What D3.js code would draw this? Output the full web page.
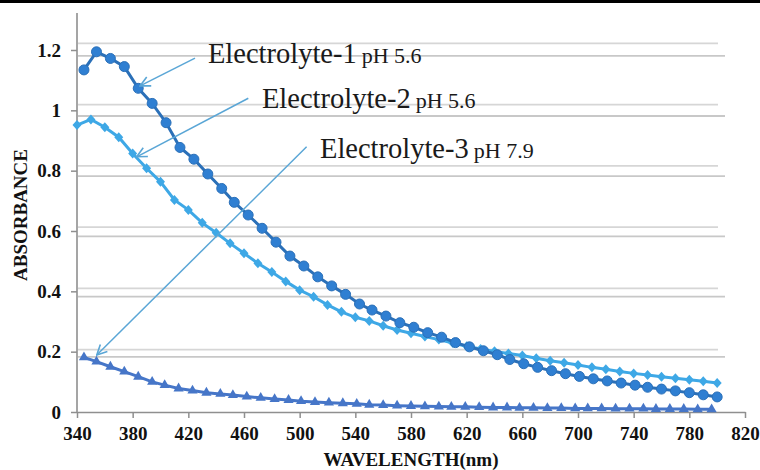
<!DOCTYPE html>
<html><head><meta charset="utf-8">
<script src="https://cdn.jsdelivr.net/npm/d3@7"></script>
<style>
html,body{margin:0;padding:0;background:#fff;}
svg{display:block;}
svg text{font-family:"Liberation Serif","DejaVu Serif",serif;}
</style></head>
<body>
<script>
// ---- data ----
const xTicks = [340,380,420,460,500,540,580,620,660,700,740,780,820];
const yTicks = [0,0.2,0.4,0.6,0.8,1.0,1.2];
const yTickLabels = ["0","0.2","0.4","0.6","0.8","1","1.2"];

const seriesNames = ["Electrolyte-1","Electrolyte-2","Electrolyte-3"];
const seriesPH = ["pH 5.6","pH 5.6","pH 7.9"];

const wavelength1 = [345,354,364,374,384,394,404,414,424,434,444,453,463,473,483,493,503,513,523,533,543,552,562,572,582,592,602,612,622,632,642,651,661,671,681,691,701,711,721,731,741,750,760,770,780,790,800];
const absorb1 = [1.134,1.194,1.172,1.145,1.073,1.023,0.959,0.877,0.838,0.789,0.741,0.695,0.653,0.609,0.563,0.517,0.484,0.448,0.418,0.390,0.358,0.338,0.318,0.296,0.281,0.263,0.248,0.230,0.216,0.203,0.190,0.174,0.160,0.148,0.137,0.127,0.118,0.110,0.103,0.096,0.089,0.082,0.076,0.070,0.064,0.057,0.050];

const wavelength2 = [340,350,360,370,380,390,400,410,420,430,440,450,460,470,480,490,500,510,520,530,540,550,560,570,580,590,600,610,620,630,640,650,660,670,680,690,700,710,720,730,740,750,760,770,780,790,800];
const absorb2 = [0.951,0.970,0.944,0.911,0.857,0.808,0.763,0.703,0.670,0.627,0.594,0.559,0.526,0.493,0.464,0.433,0.404,0.382,0.355,0.332,0.314,0.302,0.286,0.272,0.261,0.250,0.240,0.229,0.218,0.209,0.201,0.194,0.187,0.178,0.170,0.163,0.156,0.148,0.142,0.134,0.128,0.123,0.117,0.112,0.107,0.102,0.096];

const wavelength3 = [345,354,364,374,384,394,403,413,423,433,443,452,462,472,482,492,501,511,521,531,541,550,560,570,580,590,600,609,619,629,639,649,658,668,678,688,698,707,717,727,737,747,756,766,776,786,796];
const absorb3 = [0.181,0.167,0.150,0.134,0.117,0.100,0.089,0.078,0.071,0.064,0.060,0.056,0.051,0.047,0.043,0.040,0.036,0.033,0.031,0.029,0.027,0.024,0.023,0.021,0.020,0.019,0.018,0.017,0.017,0.016,0.015,0.015,0.014,0.014,0.013,0.013,0.012,0.012,0.012,0.011,0.011,0.011,0.010,0.010,0.010,0.009,0.009];

// ---- drawing ----
const W = 760, H = 470;
const svg = d3.select("body").append("svg").attr("width", W).attr("height", H);
svg.append("rect").attr("width", W).attr("height", H).attr("fill", "#fff");
svg.append("rect").attr("width", W).attr("height", 3).attr("fill", "#000");

const x = d3.scaleLinear().domain([340, 820]).range([77, 745]);
const y = d3.scaleLinear().domain([0, 1.2]).range([412, 50]);
const gridUpper = y.copy().range([411, 43.3]);
const gridLower = y.copy().range([417, 55.8]);

// double gridlines
const grid = svg.append("g");
grid.selectAll("line.gu").data(yTicks.filter(d => d > 0)).join("line")
  .attr("x1", 78).attr("x2", 718)
  .attr("y1", d => gridUpper(d)).attr("y2", d => gridUpper(d))
  .attr("stroke", "#d6d6d6").attr("stroke-width", 1.8);
grid.selectAll("line.gl").data(yTicks.filter(d => d > 0)).join("line")
  .attr("x1", 78).attr("x2", 725)
  .attr("y1", d => gridLower(d)).attr("y2", d => gridLower(d))
  .attr("stroke", "#c8c8c8").attr("stroke-width", 1.8);

// axes
const axisColor = "#8f8f8f";
const yAxis = svg.append("g").attr("transform", `translate(${x(340)},0)`)
  .call(d3.axisLeft(y).tickValues(yTicks).tickFormat((d, i) => yTickLabels[i])
    .tickSize(6).tickSizeOuter(0).tickPadding(10));
yAxis.select(".domain").remove();
svg.append("line").attr("x1", x(340)).attr("x2", x(340)).attr("y1", 13).attr("y2", y(0))
  .attr("stroke", axisColor).attr("stroke-width", 1.6);

const xAxis = svg.append("g").attr("transform", `translate(0,${y(0)})`)
  .call(d3.axisBottom(x).tickValues(xTicks).tickFormat(d3.format("d"))
    .tickSize(6).tickSizeOuter(0).tickPadding(9));

svg.selectAll(".tick line").attr("stroke", axisColor).attr("stroke-width", 1.5);
xAxis.select(".domain").attr("stroke", axisColor).attr("stroke-width", 1.6);
svg.selectAll("g").attr("font-family", null);
svg.selectAll(".tick text").attr("font-weight", "bold")
  .attr("font-size", 19).attr("fill", "#111");

// axis titles
svg.append("text").attr("transform", `translate(27,${(y(0) + y(1.2)) / 2 - 16}) rotate(-90)`)
  .attr("text-anchor", "middle").attr("font-weight", "bold")
  .attr("font-size", 19).attr("fill", "#111").text("ABSORBANCE");
svg.append("text").attr("x", (x(340) + x(820)) / 2).attr("y", 466)
  .attr("text-anchor", "middle").attr("font-weight", "bold")
  .attr("font-size", 19).attr("fill", "#111").text("WAVELENGTH(nm)");

// series
const line = d3.line().x(d => x(d[0])).y(d => y(d[1]));
const s1 = wavelength1.map((w, i) => [w, absorb1[i]]);
const s2 = wavelength2.map((w, i) => [w, absorb2[i]]);
const s3 = wavelength3.map((w, i) => [w, absorb3[i]]);

const c2 = "#3ea8e6", c1 = "#2b70b8", c1m = "#2f7fd2", c3 = "#4676c8";

// Electrolyte-2 (diamonds)
svg.append("path").datum(s2).attr("d", line).attr("fill", "none")
  .attr("stroke", c2).attr("stroke-width", 3);
svg.append("g").selectAll("path").data(s2).join("path")
  .attr("transform", d => `translate(${x(d[0])},${y(d[1])})`)
  .attr("d", "M0,-5L4.5,0L0,5L-4.5,0Z").attr("fill", c2);

// Electrolyte-1 (circles)
svg.append("path").datum(s1).attr("d", line).attr("fill", "none")
  .attr("stroke", c1).attr("stroke-width", 3);
svg.append("g").selectAll("circle").data(s1).join("circle")
  .attr("cx", d => x(d[0])).attr("cy", d => y(d[1])).attr("r", 5)
  .attr("fill", c1m).attr("stroke", c1).attr("stroke-width", 1);

// Electrolyte-3 (triangles)
svg.append("path").datum(s3).attr("d", line).attr("fill", "none")
  .attr("stroke", c3).attr("stroke-width", 3);
svg.append("g").selectAll("path").data(s3).join("path")
  .attr("transform", d => `translate(${x(d[0])},${y(d[1])})`)
  .attr("d", d3.symbol(d3.symbolTriangle, 45)).attr("fill", c3);

// annotations with arrows
const arrowColor = "#5aa6d6";
svg.append("defs").append("marker").attr("id", "arr")
  .attr("viewBox", "0 0 12 12").attr("refX", 11).attr("refY", 6)
  .attr("markerWidth", 12).attr("markerHeight", 12).attr("markerUnits", "userSpaceOnUse")
  .attr("orient", "auto")
  .append("path").attr("d", "M1,1L11,6L1,11").attr("fill", "none")
  .attr("stroke", arrowColor).attr("stroke-width", 1.6);

const notes = [
  { text: [434.1, 1.156], from: [424.8, 1.173], to: [385.3, 1.081] },
  { text: [472.9, 1.007], from: [463.1, 1.040], to: [382.9, 0.846] },
  { text: [514.6, 0.841], from: [505.0, 0.879], to: [354.2, 0.189] }
];
notes.forEach((n, i) => {
  svg.append("line")
    .attr("x1", x(n.from[0])).attr("y1", y(n.from[1]))
    .attr("x2", x(n.to[0])).attr("y2", y(n.to[1]))
    .attr("stroke", arrowColor).attr("stroke-width", 1.5)
    .attr("marker-end", "url(#arr)");
  const t = svg.append("text").attr("x", x(n.text[0])).attr("y", y(n.text[1]))
    .attr("fill", "#1a1a1a");
  t.append("tspan").attr("font-size", 28.5).text(seriesNames[i]);
  t.append("tspan").attr("font-size", 22).attr("dx", 5).text(seriesPH[i]);
});
</script>
</body></html>
